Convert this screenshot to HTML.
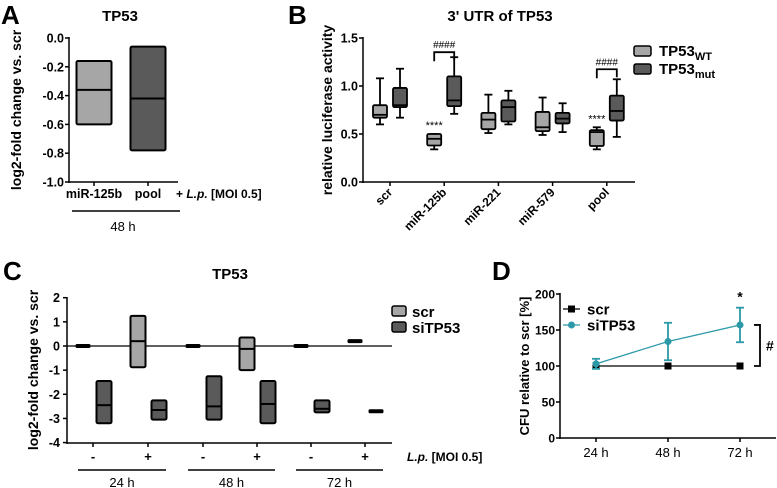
<!DOCTYPE html>
<html><head><meta charset="utf-8"><style>
body{margin:0;background:#fff}
svg{display:block;font-family:"Liberation Sans",Arial,sans-serif;font-weight:bold}
</style></head><body>
<svg id="fig" width="777" height="488" viewBox="0 0 777 488" xmlns="http://www.w3.org/2000/svg">
<g fill="#000">
<text x="1" y="24" font-size="26">A</text>
<text x="120" y="21" font-size="15" text-anchor="middle">TP53</text>
<text transform="translate(21,110) rotate(-90)" font-size="14" text-anchor="middle">log2-fold change vs. scr</text>
<text x="176" y="198" font-size="12">+ <tspan font-style="italic">L.p.</tspan> [MOI 0.5]</text>
<line x1="72" y1="211" x2="180" y2="211" stroke="#000" stroke-width="1.5"/>
<text x="123" y="231" font-size="13" font-weight="normal" text-anchor="middle">48 h</text>

<text x="288" y="24" font-size="26">B</text>
<text x="500" y="21" font-size="15" text-anchor="middle">3' UTR of TP53</text>
<text transform="translate(332,110) rotate(-90)" font-size="14" text-anchor="middle">relative luciferase activity</text>
<rect x="634" y="46" width="17" height="10" fill="#a6a6a6" stroke="#000" stroke-width="1.5" rx="2"/>
<text x="659" y="56" font-size="15">TP53<tspan font-size="11" dy="4">WT</tspan></text>
<rect x="634" y="64" width="17" height="10" fill="#5a5a5a" stroke="#000" stroke-width="1.5" rx="2"/>
<text x="659" y="74" font-size="15">TP53<tspan font-size="11" dy="4">mut</tspan></text>

<text x="3" y="280" font-size="26">C</text>
<text x="230" y="279" font-size="15" text-anchor="middle">TP53</text>
<text transform="translate(38,370) rotate(-90)" font-size="14" text-anchor="middle">log2-fold change vs. scr</text>
<rect x="392" y="306" width="14" height="10" fill="#a6a6a6" stroke="#000" stroke-width="1.5" rx="2"/>
<text x="412" y="317" font-size="15">scr</text>
<rect x="392" y="322" width="14" height="10" fill="#5a5a5a" stroke="#000" stroke-width="1.5" rx="2"/>
<text x="412" y="333" font-size="15">siTP53</text>
<text x="407" y="461" font-size="12"><tspan font-style="italic">L.p.</tspan> [MOI 0.5]</text>

<text x="492" y="280" font-size="26">D</text>
<text transform="translate(529,366) rotate(-90)" font-size="13" text-anchor="middle">CFU relative to scr [%]</text>
</g>
<g id="plots"></g>
</svg>
<script>
// Panel A
const aCats=["miR-125b","pool"];
const aTop=[-0.16,-0.06], aMed=[-0.36,-0.42], aBot=[-0.6,-0.78];
const aTicks=[0,-0.2,-0.4,-0.6,-0.8,-1.0];
// Panel B
const bCats=["scr","miR-125b","miR-221","miR-579","pool"];
const bWtMin=[0.6,0.34,0.51,0.49,0.34], bWtQ1=[0.67,0.38,0.55,0.53,0.375], bWtMed=[0.7,0.45,0.65,0.57,0.52], bWtQ3=[0.8,0.5,0.72,0.73,0.54], bWtMax=[1.08,0.5,0.91,0.88,0.57];
const bMutMin=[0.67,0.71,0.6,0.52,0.47], bMutQ1=[0.78,0.79,0.63,0.61,0.64], bMutMed=[0.8,0.85,0.78,0.66,0.74], bMutQ3=[0.98,1.1,0.85,0.72,0.9], bMutMax=[1.18,1.3,0.95,0.82,1.07];
const bTicks=[0,0.5,1.0,1.5];
// Panel C
const cCats=["-","+","-","+","-","+"];
const cTimes=["24 h","48 h","72 h"];
const cScrTop=[0,1.25,0,0.35,0,0.2], cScrMed=[0,0.2,0,-0.12,0,0.2], cScrBot=[0,-0.88,0,-1.0,0,0.2];
const cSiTop=[-1.45,-2.25,-1.25,-1.45,-2.25,-2.7], cSiMed=[-2.45,-2.65,-2.5,-2.4,-2.6,-2.7], cSiBot=[-3.2,-3.05,-3.05,-3.2,-2.75,-2.7];
const cTicks=[2,1,0,-1,-2,-3,-4];
// Panel D
const dCats=["24 h","48 h","72 h"];
const dScr=[100,100,100];
const dSi=[103,134,157];
const dSiErr=[7,26,24];
const dTicks=[0,50,100,150,200];

const NS="http://www.w3.org/2000/svg";
const root=document.getElementById('plots');
function mk(tag,attrs,parent,txt){const e=document.createElementNS(NS,tag);for(const k in attrs)e.setAttribute(k,attrs[k]);if(txt!==undefined)e.textContent=txt;(parent||root).appendChild(e);return e;}
const LIGHT="#a6a6a6", DARK="#5a5a5a";
function floatBox(x,w,yt,ym,yb,fill,name){
  const g=mk('g',{});
  
  
  const h=Math.abs(yb-yt);
  if(h<2){mk('rect',{x:x-w/2,y:ym-2,width:w,height:4,fill:"#000",rx:1.5},g);}
  else{mk('rect',{x:x-w/2,y:Math.min(yt,yb),width:w,height:h,fill:fill,stroke:"#000","stroke-width":2,rx:1.5},g);
  mk('line',{x1:x-w/2,x2:x+w/2,y1:ym,y2:ym,stroke:"#000","stroke-width":2},g);}
}
// ---- A
(function(){
  const y=v=>38+(0-v)*144, x0=69, x1=178, xs=[94,148];
  const ax=mk('g',{});
  
  
  mk('line',{x1:x0,x2:x0,y1:37,y2:183,stroke:"#000","stroke-width":1.5},ax);
  mk('line',{x1:x0,x2:x1,y1:182,y2:182,stroke:"#000","stroke-width":1.5},ax);
  aTicks.forEach(t=>{mk('line',{x1:x0-4,x2:x0,y1:y(t),y2:y(t),stroke:"#000","stroke-width":1.5},ax);
    const tl=mk('text',{x:x0-5,y:y(t)+4.5,"font-size":12.5,"text-anchor":"end"},ax,t.toFixed(1));
    
    });
  aCats.forEach((c,i)=>{mk('line',{x1:xs[i],x2:xs[i],y1:182,y2:186,stroke:"#000","stroke-width":1.5},ax);
    const tl=mk('text',{x:xs[i],y:198,"font-size":12.5,"text-anchor":"middle"},ax,c);
    
    
    floatBox(xs[i],35,y(aTop[i]),y(aMed[i]),y(aBot[i]),i==0?LIGHT:DARK,'panel-a-box-'+c);});
})();
// ---- B
(function(){
  const y=v=>182-v*96, x0=363, x1=635;
  const xs=bCats.map((c,i)=>390+i*54.2);
  const ax=mk('g',{});
  
  
  mk('line',{x1:x0,x2:x0,y1:37,y2:183,stroke:"#000","stroke-width":1.5},ax);
  mk('line',{x1:x0,x2:x1,y1:182,y2:182,stroke:"#000","stroke-width":1.5},ax);
  bTicks.forEach(t=>{mk('line',{x1:x0-4,x2:x0,y1:y(t),y2:y(t),stroke:"#000","stroke-width":1.5},ax);
    const tl=mk('text',{x:x0-5,y:y(t)+4.5,"font-size":12.5,"text-anchor":"end"},ax,t.toFixed(1));
    
    });
  function bw(x,mn,q1,md,q3,mx,fill,name){
    const g=mk('g',{});
    
    
    mk('line',{x1:x,x2:x,y1:y(mx),y2:y(mn),stroke:"#000","stroke-width":1.8},g);
    mk('line',{x1:x-4,x2:x+4,y1:y(mx),y2:y(mx),stroke:"#000","stroke-width":1.8},g);
    mk('line',{x1:x-4,x2:x+4,y1:y(mn),y2:y(mn),stroke:"#000","stroke-width":1.8},g);
    mk('rect',{x:x-7,y:y(q3),width:14,height:y(q1)-y(q3),fill:fill,stroke:"#000","stroke-width":1.8,rx:1.5},g);
    mk('line',{x1:x-7,x2:x+7,y1:y(md),y2:y(md),stroke:"#000","stroke-width":1.8},g);
  }
  bCats.forEach((c,i)=>{const x=xs[i];
    mk('line',{x1:x,x2:x,y1:182,y2:186,stroke:"#000","stroke-width":1.5},ax);
    const tl=mk('text',{transform:`translate(${x+3},${193}) rotate(-45)`,"font-size":12,"text-anchor":"end"},ax,c);
    
    
    bw(x-10,bWtMin[i],bWtQ1[i],bWtMed[i],bWtQ3[i],bWtMax[i],LIGHT,'panel-b-box-wt-'+c);
    bw(x+10,bMutMin[i],bMutQ1[i],bMutMed[i],bMutQ3[i],bMutMax[i],DARK,'panel-b-box-mut-'+c);
  });
  [1,4].forEach(i=>{const x=xs[i];
    const sg=mk('g',{});
    
    
    const by=y(Math.max(bMutMax[i],bWtMax[i]))-(i==1?5:10);
    mk('path',{d:`M${x-10},${by+9} V${by} H${x+10} V${by+8}`,fill:"none",stroke:"#000","stroke-width":1.8},sg);
    mk('text',{x:x,y:by-4,"font-size":10,"text-anchor":"middle","font-weight":"normal"},sg,"####");
    mk('text',{x:x-10,y:y(bWtMax[i])-5,"font-size":11,"text-anchor":"middle","font-weight":"normal"},sg,"****");
  });
})();
// ---- C
(function(){
  const y=v=>346-v*24.15, x0=67, x1=392;
  const xs=[93,148,203,257,311,365];
  const ax=mk('g',{});
  
  
  mk('line',{x1:x0,x2:x0,y1:297,y2:444,stroke:"#000","stroke-width":1.5},ax);
  mk('line',{x1:x0,x2:x1,y1:443,y2:443,stroke:"#000","stroke-width":1.5},ax);
  mk('line',{x1:x0,x2:x1,y1:y(0),y2:y(0),stroke:"#000","stroke-width":1.2},ax);
  cTicks.forEach(t=>{mk('line',{x1:x0-4,x2:x0,y1:y(t),y2:y(t),stroke:"#000","stroke-width":1.5},ax);
    const tl=mk('text',{x:x0-7,y:y(t)+4.5,"font-size":12.5,"text-anchor":"end"},ax,String(t));
    
    });
  cCats.forEach((c,i)=>{const x=xs[i];
    mk('line',{x1:x,x2:x,y1:443,y2:447,stroke:"#000","stroke-width":1.5},ax);
    const tl=mk('text',{x:x,y:461,"font-size":13,"text-anchor":"middle"},ax,c);
    
    
    floatBox(x-10,15,y(cScrTop[i]),y(cScrMed[i]),y(cScrBot[i]),LIGHT,'panel-c-box-scr-'+i);
    floatBox(x+11,15,y(cSiTop[i]),y(cSiMed[i]),y(cSiBot[i]),DARK,'panel-c-box-sitp53-'+i);
  });
  cTimes.forEach((t,j)=>{const a=xs[2*j]-15,b=xs[2*j+1]+18;
    const l=mk('line',{x1:a,x2:b,y1:470,y2:470,stroke:"#000","stroke-width":1.5},ax);
    
    
    const tl=mk('text',{x:(a+b)/2,y:487,"font-size":13,"font-weight":"normal","text-anchor":"middle"},ax,t);
    
    });
})();
// ---- D
(function(){
  const y=v=>438-v*0.72, x0=560, x1=776;
  const xs=[596,668,740];
  const TEAL="#2b99a8";
  const ax=mk('g',{});
  
  
  mk('line',{x1:x0,x2:x0,y1:293,y2:439,stroke:"#000","stroke-width":1.5},ax);
  mk('line',{x1:x0,x2:x1,y1:438,y2:438,stroke:"#000","stroke-width":1.5},ax);
  dTicks.forEach(t=>{mk('line',{x1:x0-4,x2:x0,y1:y(t),y2:y(t),stroke:"#000","stroke-width":1.5},ax);
    const tl=mk('text',{x:x0-5,y:y(t)+4.5,"font-size":12,"text-anchor":"end"},ax,String(t));
    
    });
  dCats.forEach((c,i)=>{mk('line',{x1:xs[i],x2:xs[i],y1:438,y2:442,stroke:"#000","stroke-width":1.5},ax);
    const tl=mk('text',{x:xs[i],y:457,"font-size":13,"font-weight":"normal","text-anchor":"middle"},ax,c);
    
    });
  const gs=mk('g',{});
  
  
  mk('polyline',{points:dScr.map((v,i)=>xs[i]+','+y(v)).join(' '),fill:"none",stroke:"#000","stroke-width":1.3},gs);
  dScr.forEach((v,i)=>mk('rect',{x:xs[i]-3.5,y:y(v)-3.5,width:7,height:7,fill:"#000"},gs));
  const gt=mk('g',{});
  
  
  mk('polyline',{points:dSi.map((v,i)=>xs[i]+','+y(v)).join(' '),fill:"none",stroke:TEAL,"stroke-width":1.3},gt);
  dSi.forEach((v,i)=>{const e=dSiErr[i];
    mk('line',{x1:xs[i],x2:xs[i],y1:y(v+e),y2:y(v-e),stroke:TEAL,"stroke-width":1.8},gt);
    mk('line',{x1:xs[i]-4,x2:xs[i]+4,y1:y(v+e),y2:y(v+e),stroke:TEAL,"stroke-width":1.8},gt);
    mk('line',{x1:xs[i]-4,x2:xs[i]+4,y1:y(v-e),y2:y(v-e),stroke:TEAL,"stroke-width":1.8},gt);
    mk('circle',{cx:xs[i],cy:y(v),r:3.5,fill:TEAL},gt);});
  const sg=mk('g',{});
  
  
  mk('text',{x:xs[2],y:y(dSi[2]+dSiErr[2])-6,"font-size":14,"text-anchor":"middle"},sg,"*");
  mk('path',{d:`M754,${y(dSi[2])} H760 V${y(100)} H754`,fill:"none",stroke:"#000","stroke-width":1.8},sg);
  mk('text',{x:766,y:(y(dSi[2])+y(100))/2+5,"font-size":14},sg,"#");
  const lg=mk('g',{});
  
  
  mk('line',{x1:563,x2:580,y1:309,y2:309,stroke:"#000","stroke-width":1.3},lg);
  mk('rect',{x:568,y:305.5,width:7,height:7,fill:"#000"},lg);
  mk('text',{x:587,y:314.5,"font-size":15},lg,"scr");
  mk('line',{x1:563,x2:580,y1:325,y2:325,stroke:TEAL,"stroke-width":1.3},lg);
  mk('circle',{cx:571.5,cy:325,r:3.5,fill:TEAL},lg);
  mk('text',{x:587,y:330.5,"font-size":15},lg,"siTP53");
})();
</script>
</body></html>
